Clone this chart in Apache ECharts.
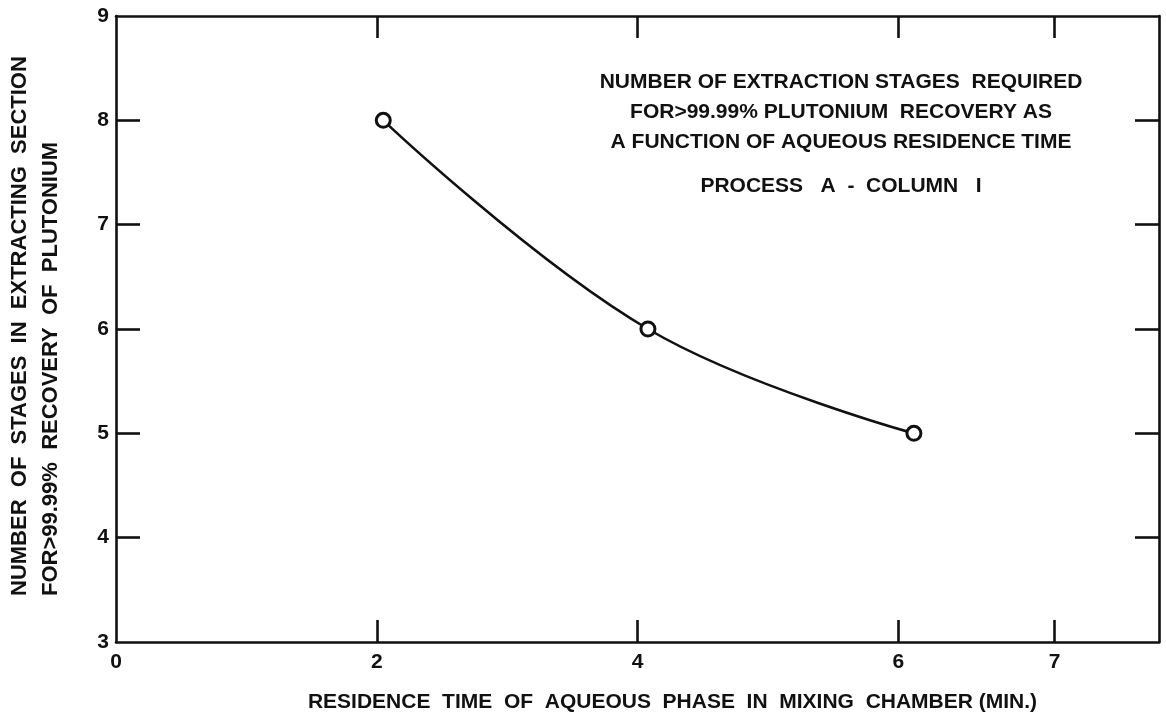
<!DOCTYPE html>
<html>
<head>
<meta charset="utf-8">
<script src="https://cdn.jsdelivr.net/npm/echarts@6/dist/echarts.min.js"></script>
<style>html,body{margin:0;padding:0;background:#fff;}#chart{width:1166px;height:723px;}</style>
</head>
<body>
<div id="chart"></div>
<script>
// Data
const residenceTime = [2.05, 4.08, 6.12];
const stagesRequired = [8, 6, 5];
const xTickValues = [0, 2, 4, 6, 7.2];
const xTickLabels = ['0', '2', '4', '6', '7'];
const yTickValues = [4, 5, 6, 7, 8];
const yLabelValues = [3, 4, 5, 6, 7, 8, 9];
const noteLines = [
  'NUMBER OF EXTRACTION STAGES  REQUIRED',
  'FOR>99.99% PLUTONIUM  RECOVERY AS',
  'A FUNCTION OF AQUEOUS RESIDENCE TIME'
];
const noteSub = 'PROCESS   A  -  COLUMN   I';
const xTitle = 'RESIDENCE  TIME  OF  AQUEOUS  PHASE  IN  MIXING  CHAMBER (MIN.)';
const yTitle1 = 'NUMBER  OF  STAGES  IN  EXTRACTING  SECTION';
const yTitle2 = 'FOR>99.99%  RECOVERY  OF  PLUTONIUM';

const FONT = '"Liberation Sans", Arial, sans-serif';
const INK = '#111';

const chart = echarts.init(document.getElementById('chart'));
const lineStyleAxis = { color: INK, width: 2.6 };
const tickStyle = { color: INK, width: 2.6 };

chart.setOption({
  animation: false,
  backgroundColor: '#fff',
  grid: { left: 116, right: 7, top: 16, bottom: 81, containLabel: false },
  title: [
    {
      text: noteLines.join('\n'),
      left: 836, top: 62, textAlign: 'center',
      textStyle: { fontFamily: FONT, fontWeight: 'bold', fontSize: 21, color: INK, lineHeight: 30, align: 'center' }
    },
    {
      text: noteSub,
      left: 836, top: 171, textAlign: 'center',
      textStyle: { fontFamily: FONT, fontWeight: 'bold', fontSize: 21, color: INK }
    }
  ],
  graphic: [
    {
      type: 'text', x: 20, y: 596, rotation: Math.PI / 2,
      style: { text: yTitle1, fill: INK, font: 'bold 22px ' + FONT, textAlign: 'left', textVerticalAlign: 'middle' }
    },
    {
      type: 'text', x: 51, y: 596, rotation: Math.PI / 2,
      style: { text: yTitle2, fill: INK, font: 'bold 22px ' + FONT, textAlign: 'left', textVerticalAlign: 'middle' }
    }
  ],
  xAxis: [
    {
      type: 'value', position: 'bottom', min: 0, max: 8,
      name: xTitle, nameLocation: 'middle', nameGap: 50,
      nameTextStyle: { fontFamily: FONT, fontWeight: 'bold', fontSize: 21, color: INK, padding: [0, 0, 0, 70] },
      axisLine: { show: true, onZero: false, lineStyle: lineStyleAxis },
      axisTick: { show: true, inside: true, length: 22, lineStyle: tickStyle, customValues: xTickValues.slice(1) },
      axisLabel: {
        show: true, customValues: xTickValues, margin: 10,
        fontFamily: FONT, fontWeight: 'bold', fontSize: 21, color: INK,
        formatter: v => { const i = xTickValues.indexOf(v); return i >= 0 ? xTickLabels[i] : ''; }
      },
      splitLine: { show: false }
    },
    {
      type: 'value', position: 'top', min: 0, max: 8,
      axisLine: { show: true, onZero: false, lineStyle: lineStyleAxis },
      axisTick: { show: true, inside: true, length: 22, lineStyle: tickStyle, customValues: xTickValues.slice(1) },
      axisLabel: { show: false },
      splitLine: { show: false }
    }
  ],
  yAxis: [
    {
      type: 'value', position: 'left', min: 3, max: 9, interval: 1,
      axisLine: { show: true, onZero: false, lineStyle: lineStyleAxis },
      axisTick: { show: true, inside: true, length: 24, lineStyle: tickStyle, customValues: yTickValues },
      axisLabel: {
        show: true, customValues: yLabelValues, margin: 7,
        fontFamily: FONT, fontWeight: 'bold', fontSize: 21, color: INK
      },
      splitLine: { show: false }
    },
    {
      type: 'value', position: 'right', min: 3, max: 9, interval: 1,
      axisLine: { show: true, onZero: false, lineStyle: lineStyleAxis },
      axisTick: { show: true, inside: true, length: 24, lineStyle: tickStyle, customValues: yTickValues },
      axisLabel: { show: false },
      splitLine: { show: false }
    }
  ],
  series: [
    {
      type: 'line',
      xAxisIndex: 0, yAxisIndex: 0,
      data: residenceTime.map((x, i) => [x, stagesRequired[i]]),
      smooth: 0.4,
      symbol: 'circle', symbolSize: 14,
      itemStyle: { color: '#fff', borderColor: INK, borderWidth: 3 },
      lineStyle: { color: INK, width: 2.6 },
      z: 3
    }
  ]
});
</script>
</body>
</html>
